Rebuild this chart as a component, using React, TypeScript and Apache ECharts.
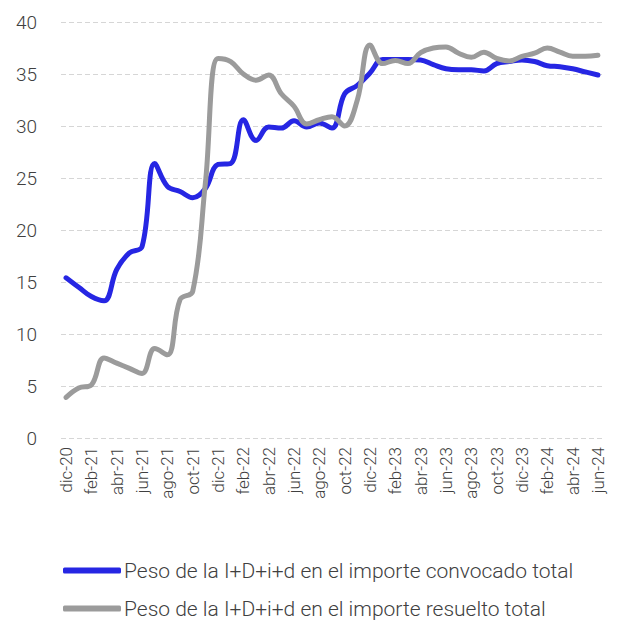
import React, { useEffect, useRef } from "react";
import * as echarts from "echarts";

const months = [
  "dic-20","ene-21","feb-21","mar-21","abr-21","may-21","jun-21","jul-21","ago-21","sep-21","oct-21","nov-21",
  "dic-21","ene-22","feb-22","mar-22","abr-22","may-22","jun-22","jul-22","ago-22","sep-22","oct-22","nov-22",
  "dic-22","ene-23","feb-23","mar-23","abr-23","may-23","jun-23","jul-23","ago-23","sep-23","oct-23","nov-23",
  "dic-23","ene-24","feb-24","mar-24","abr-24","may-24","jun-24",
];

const convocado = [
  15.4, 14.5, 13.6, 13.2, 16.2, 17.8, 18.4, 26.4, 24.2, 23.7, 23.1, 24.0,
  26.3, 26.4, 30.6, 28.6, 29.9, 29.8, 30.5, 29.9, 30.3, 29.8, 33.1, 33.9,
  35.1, 36.4, 36.4, 36.4, 36.35, 35.9, 35.5, 35.4, 35.4, 35.3, 36.0, 36.2,
  36.35, 36.2, 35.8, 35.7, 35.5, 35.2, 34.9,
];

const resuelto = [
  3.9, 4.8, 5.1, 7.7, 7.2, 6.7, 6.2, 8.6, 8.0, 13.3, 14.1, 24.5,
  36.5, 36.2, 35.0, 34.4, 34.9, 33.1, 31.9, 30.2, 30.6, 30.9, 30.0, 32.5,
  37.8, 36.0, 36.3, 36.0, 37.05, 37.5, 37.6, 37.0, 36.6, 37.1, 36.5, 36.25,
  36.7, 37.0, 37.5, 37.1, 36.7, 36.7, 36.8,
];

const seriesNames = [
  "Peso de la I+D+i+d en el importe convocado total",
  "Peso de la I+D+i+d en el importe resuelto total",
];

const yTicks = [0, 5, 10, 15, 20, 25, 30, 35, 40];

const FONT = "Roboto, 'Noto Sans', sans-serif";
const BLUE = "#2626E3";
const GRAY = "#9B9B9B";

export default function App() {
  const ref = useRef<HTMLDivElement>(null);
  useEffect(() => {
    if (!ref.current) return;
    const chart = echarts.init(ref.current, undefined, { renderer: "svg" });
    const labelIdx = months.map((_, i) => i).filter((i) => i % 2 === 0);
    const legendBase = {
      orient: "horizontal",
      left: 63,
      padding: 0,
      itemWidth: 58,
      itemHeight: 6,
      icon: "roundRect",
      textStyle: {
        color: "#404040",
        fontSize: 21,
        lineHeight: 18,
        fontFamily: FONT,
        fontWeight: 300,
        padding: [0, 0, 0, -2],
      },
    };
    chart.setOption({
      animation: false,
      grid: { left: 61, right: 16, top: 22, bottom: 183, containLabel: false },
      xAxis: {
        type: "value",
        min: -0.4,
        max: months.length - 1 + 0.4,
        axisLine: { show: false },
        axisTick: { show: false },
        splitLine: { show: false },
        axisLabel: {
          customValues: labelIdx,
          formatter: (v: number) => months[Math.round(v)] ?? "",
          rotate: 90,
          margin: 9,
          color: "#404040",
          fontSize: 17,
          fontFamily: FONT,
          fontWeight: 300,
        },
      },
      yAxis: {
        type: "value",
        min: yTicks[0],
        max: yTicks[yTicks.length - 1],
        interval: 5,
        axisLine: { show: false },
        axisTick: { show: false },
        splitLine: { lineStyle: { color: "#d6d6d6", type: [5, 3], width: 1 } },
        axisLabel: {
          margin: 24,
          color: "#404040",
          fontSize: 19,
          fontFamily: FONT,
          fontWeight: 300,
        },
      },
      legend: [
        { ...legendBase, top: 560, data: [seriesNames[0]] },
        { ...legendBase, top: 598, data: [seriesNames[1]] },
      ],
      series: [
        {
          name: seriesNames[0],
          type: "line",
          data: convocado.map((v, i) => [i, v]),
          smooth: 0.4,
          symbol: "none",
          lineStyle: { color: BLUE, width: 5, cap: "round", join: "round" },
          itemStyle: { color: BLUE },
          z: 2,
        },
        {
          name: seriesNames[1],
          type: "line",
          data: resuelto.map((v, i) => [i, v]),
          smooth: 0.4,
          symbol: "none",
          lineStyle: { color: GRAY, width: 5, cap: "round", join: "round" },
          itemStyle: { color: GRAY },
          z: 3,
        },
      ],
    });
    return () => chart.dispose();
  }, []);
  return <div ref={ref} style={{ width: 619, height: 621, position: "absolute", left: 0, top: 0 }} />;
}
